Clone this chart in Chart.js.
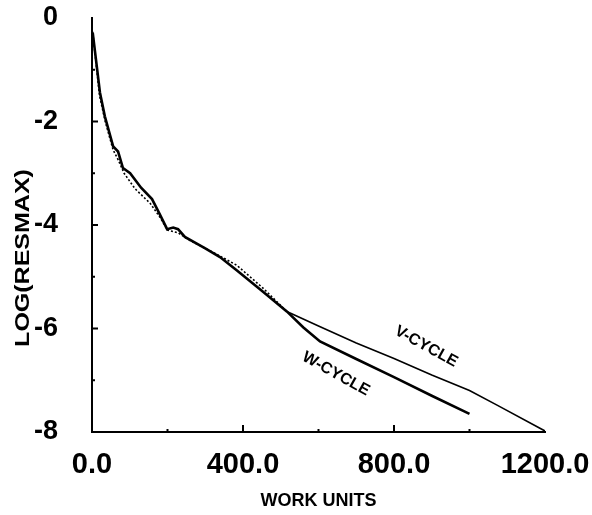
<html>
<head>
<meta charset="UTF-8" />
<title>LOG(RESMAX) vs WORK UNITS</title>
<script src="https://cdn.jsdelivr.net/npm/chart.js"></script>
<style>
  body { margin: 0; padding: 0; background: #ffffff; }
  #plot { display: block; }
</style>
</head>
<body>
<canvas id="plot" width="592" height="515"></canvas>
<script>
// V-cycle convergence history
var vWork = [0, 3, 20, 35, 56, 70, 85, 114, 154, 180, 200, 228, 260, 300, 339, 384, 453, 516, 600, 700, 800, 900, 1000, 1073, 1200];
var vLog  = [-0.4, -0.35, -1.5, -2.0, -2.55, -2.75, -3.0, -3.3, -3.58, -3.85, -4.1, -4.15, -4.3, -4.45, -4.6, -4.78, -5.22, -5.67, -5.95, -6.28, -6.58, -6.9, -7.2, -7.48, -7.98];

// W-cycle convergence history
var wWork = [0, 3, 21, 34, 56, 69, 82, 101, 130, 159, 180, 199, 215, 228, 246, 300, 339, 384, 453, 516, 560, 604, 700, 800, 900, 1000];
var wLog  = [-0.4, -0.35, -1.44, -1.9, -2.48, -2.58, -2.9, -3.0, -3.28, -3.5, -3.8, -4.08, -4.05, -4.08, -4.23, -4.45, -4.62, -4.88, -5.29, -5.67, -5.98, -6.25, -6.59, -6.94, -7.3, -7.65];

// axis ticks
var xMajorTicks = [400, 800];
var xMinorTicks = [200, 600, 1000];
var yMajorTicks = [-2, -4, -6];
var yMinorTicks = [-1, -3, -5, -7];

// curve names written next to the lines
var curveNames = ["V-CYCLE", "W-CYCLE"];
var nameWork = [885, 646];
var nameLog = [-6.35, -6.88];

// the V-cycle trace is dotted until the two curves part
var vDottedUntil = 516;

function toPoints(xs, ys) {
    var pts = [];
    for (var i = 0; i < xs.length; i++) {
        pts.push({ x: xs[i], y: ys[i] });
    }
    return pts;
}

// inward tick marks, y title and rotated curve names
const extras = {
    id: "extras",
    afterDraw(chart) {
        const ctx = chart.ctx;
        const xs = chart.scales.x;
        const ys = chart.scales.y;
        ctx.save();
        ctx.strokeStyle = "#000";
        ctx.lineWidth = 2;
        yMajorTicks.forEach(v => {
            const py = ys.getPixelForValue(v);
            ctx.beginPath(); ctx.moveTo(xs.left, py); ctx.lineTo(xs.left + 6, py); ctx.stroke();
        });
        yMinorTicks.forEach(v => {
            const py = ys.getPixelForValue(v);
            ctx.beginPath(); ctx.moveTo(xs.left, py); ctx.lineTo(xs.left + 3, py); ctx.stroke();
        });
        xMajorTicks.forEach(v => {
            const px = xs.getPixelForValue(v);
            ctx.beginPath(); ctx.moveTo(px, ys.bottom); ctx.lineTo(px, ys.bottom - 7); ctx.stroke();
        });
        xMinorTicks.forEach(v => {
            const px = xs.getPixelForValue(v);
            ctx.beginPath(); ctx.moveTo(px, ys.bottom); ctx.lineTo(px, ys.bottom - 3); ctx.stroke();
        });

        ctx.fillStyle = "#000";
        ctx.textAlign = "center";
        ctx.textBaseline = "middle";

        // y title, a little stretched along its length
        ctx.save();
        ctx.font = "bold 20px 'Liberation Sans', Arial, sans-serif";
        ctx.translate(23, 258);
        ctx.rotate(-Math.PI / 2);
        ctx.scale(1.25, 1);
        ctx.fillText("LOG(RESMAX)", 0, 0);
        ctx.restore();

        ctx.font = "bold 16px 'Liberation Sans', Arial, sans-serif";
        for (var i = 0; i < curveNames.length; i++) {
            ctx.save();
            ctx.translate(xs.getPixelForValue(nameWork[i]), ys.getPixelForValue(nameLog[i]));
            ctx.rotate(29 * Math.PI / 180);
            ctx.fillText(curveNames[i], 0, 0);
            ctx.restore();
        }
        ctx.restore();
    }
};

const fontFamily = "'Liberation Sans', Arial, sans-serif";

new Chart(document.getElementById("plot"), {
    type: "scatter",
    data: {
        datasets: [
            {
                label: "V-CYCLE",
                data: toPoints(vWork, vLog),
                showLine: true,
                borderColor: "#000",
                borderWidth: 1.6,
                pointRadius: 0,
                tension: 0,
                segment: {
                    borderDash: c => c.p1.parsed.x <= vDottedUntil ? [2, 2] : undefined,
                },
            },
            {
                label: "W-CYCLE",
                data: toPoints(wWork, wLog),
                showLine: true,
                borderColor: "#000",
                borderWidth: 2.6,
                pointRadius: 0,
                tension: 0,
            },
        ],
    },
    options: {
        responsive: false,
        animation: false,
        layout: { padding: { top: 18, right: 47, left: 0, bottom: 0 } },
        plugins: {
            legend: { display: false },
            tooltip: { enabled: false },
        },
        scales: {
            x: {
                type: "linear",
                min: 0,
                max: 1200,
                ticks: {
                    stepSize: 400,
                    autoSkip: false,
                    maxRotation: 0,
                    color: "#000",
                    font: { family: fontFamily, size: 29, weight: "bold" },
                    padding: 8,
                    callback: v => v.toFixed(1),
                },
                grid: { display: false },
                border: { color: "#000", width: 2 },
                title: { display: true, text: "WORK UNITS", color: "#000", font: { family: fontFamily, size: 18, weight: "bold" }, padding: { top: 0, bottom: 3 } },
                afterFit: s => { s.height = 83; s.paddingLeft = 0; s.paddingRight = 0; },
            },
            y: {
                min: -8,
                max: 0,
                ticks: {
                    stepSize: 2,
                    color: "#000",
                    font: { family: fontFamily, size: 27, weight: "bold" },
                    padding: 26,
                    callback: v => String(v),
                },
                grid: { display: false },
                border: { color: "#000", width: 2 },
                afterFit: s => { s.width = 92; s.paddingTop = 0; s.paddingBottom = 0; },
            },
        },
    },
    plugins: [extras],
});
</script>
</body>
</html>
